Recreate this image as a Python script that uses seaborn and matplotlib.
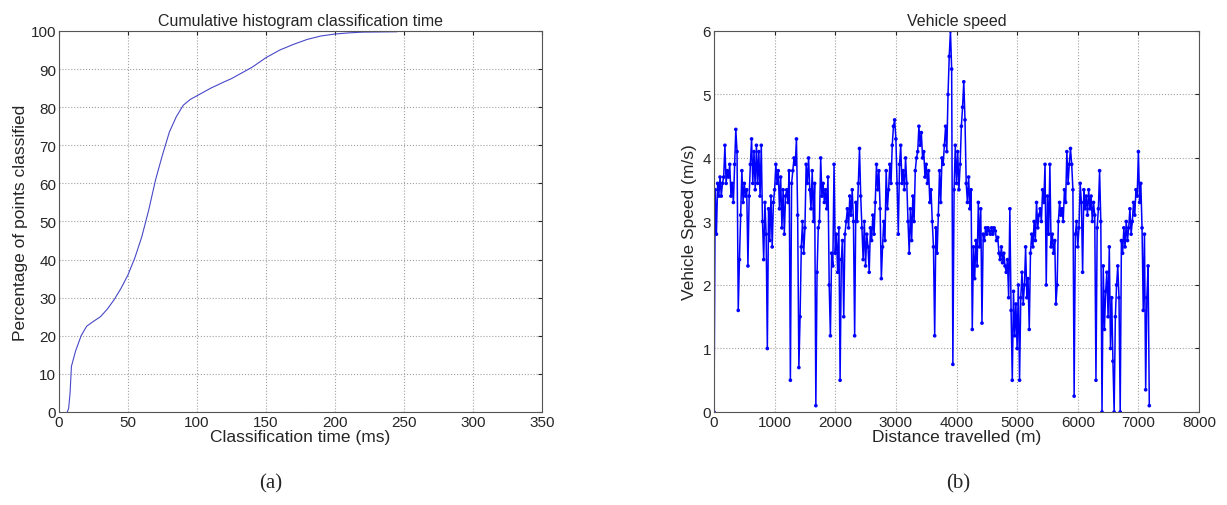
import numpy as np
import pandas as pd
import matplotlib
matplotlib.use("Agg")
import matplotlib.pyplot as plt
import seaborn as sns

# Cumulative histogram of classification time
class_time = [6, 7, 8, 9, 12, 16, 20, 25, 30, 35, 40, 45, 50, 55, 60, 65, 70, 75,
              80, 85, 90, 95, 100, 110, 120, 125, 130, 140, 150, 160, 170, 180,
              190, 200, 210, 220, 245]
pct_classified = [0, 1, 5, 12, 16, 20, 22.5, 23.8, 25, 27, 29.5, 32.5, 36, 40.5, 46,
                  53, 61, 67.5, 73.5, 77.5, 80.5, 82, 83, 85, 86.7, 87.5, 88.5, 90.5,
                  93, 95, 96.5, 97.8, 98.7, 99.2, 99.5, 99.7, 99.8]

# Vehicle speed (m/s), one reading every 20 m of distance travelled
speed_step = 20
vehicle_speed = [
    0.0, 3.5, 2.8, 3.6, 3.4, 3.7, 3.4, 3.6, 3.7, 4.2,
    3.6, 3.8, 3.7, 3.9, 3.4, 3.6, 3.3, 3.9, 4.45, 4.1,
    1.6, 2.4, 3.1, 3.8, 3.3, 3.6, 3.4, 3.5, 2.3, 3.4,
    3.9, 4.3, 3.6, 4.1, 3.5, 4.2, 3.6, 4.1, 3.4, 4.2,
    3.0, 2.4, 3.3, 2.8, 1.0, 3.2, 2.7, 3.4, 2.6, 3.3,
    3.5, 3.9, 3.6, 3.8, 3.2, 3.7, 2.9, 3.5, 2.8, 3.4,
    3.5, 3.3, 3.8, 0.5, 3.6, 3.8, 4.0, 3.9, 4.3, 3.1,
    0.7, 1.5, 2.6, 3.0, 2.5, 2.9, 3.9, 3.6, 4.0, 3.5,
    3.2, 3.8, 3.0, 3.6, 0.1, 2.2, 2.9, 3.0, 4.0, 3.4,
    3.6, 3.3, 3.5, 3.2, 3.7, 2.0, 1.2, 2.5, 2.3, 3.9,
    2.5, 2.8, 2.2, 2.9, 0.5, 2.4, 2.7, 1.5, 2.8, 3.0,
    3.2, 2.9, 3.4, 3.1, 3.5, 3.0, 1.2, 3.3, 3.0, 3.6,
    4.15, 3.4, 2.9, 2.4, 3.0, 2.3, 2.8, 2.6, 2.2, 2.9,
    2.7, 3.1, 2.8, 3.3, 3.9, 3.5, 3.8, 3.2, 2.1, 2.6,
    3.0, 2.7, 3.8, 3.2, 3.5, 3.9, 3.6, 4.2, 4.5, 4.6,
    4.3, 3.6, 2.8, 3.9, 4.2, 3.6, 3.8, 3.5, 4.0, 3.6,
    3.0, 2.5, 3.2, 2.7, 3.4, 3.0, 3.8, 4.0, 4.1, 4.5,
    4.2, 4.4, 4.0, 4.1, 3.7, 3.9, 3.6, 3.8, 3.3, 3.5,
    3.0, 2.6, 1.2, 2.9, 2.5, 3.1, 3.8, 3.3, 4.0, 3.9,
    4.2, 4.5, 4.1, 5.0, 5.6, 6.0, 5.4, 0.75, 3.5, 4.2,
    3.6, 4.1, 3.5, 3.9, 4.5, 4.8, 5.2, 4.6, 3.6, 3.3,
    3.7, 3.2, 3.5, 1.3, 2.6, 2.1, 2.7, 2.3, 3.3, 2.6,
    3.2, 1.4, 2.8, 2.7, 2.9, 2.8, 2.9, 2.85, 2.8, 2.9,
    2.8, 2.9, 2.85, 2.7, 2.75, 2.5, 2.4, 2.6, 2.35, 2.5,
    2.3, 2.2, 2.4, 1.8, 3.2, 1.6, 0.5, 1.9, 1.2, 1.7,
    1.0, 2.0, 0.5, 1.8, 2.2, 1.7, 2.0, 2.6, 1.8, 2.1,
    1.3, 2.5, 2.8, 2.6, 3.0, 2.7, 3.3, 2.9, 3.1, 3.2,
    3.0, 3.5, 3.3, 3.9, 2.0, 3.4, 2.8, 3.9, 2.6, 2.8,
    2.5, 2.7, 1.7, 2.0, 3.0, 3.3, 3.1, 3.2, 3.0, 3.5,
    3.3, 4.1, 3.6, 3.9, 4.15, 3.9, 3.5, 0.25, 2.8, 3.0,
    2.6, 2.9, 3.6, 3.3, 2.2, 3.5, 3.2, 3.4, 3.1, 3.5,
    3.2, 3.4, 3.0, 3.3, 3.1, 0.5, 2.9, 3.2, 3.8, 3.0,
    0.0, 2.3, 1.3, 1.9, 2.2, 1.5, 2.6, 1.0, 1.8, 0.8,
    0.0, 1.5, 2.0, 2.3, 1.8, 0.0, 2.7, 2.5, 2.9, 2.6,
    3.0, 2.7, 2.9, 3.2, 2.8, 3.0, 3.3, 3.1, 3.5, 3.4,
    4.1, 3.3, 3.6, 2.9, 1.6, 2.8, 0.35, 1.8, 2.3, 0.1,
]
distance = np.arange(len(vehicle_speed)) * speed_step

sns.set_style("white")
plt.rcParams['font.family'] = ['Liberation Sans', 'DejaVu Sans']
plt.rcParams['xtick.direction'] = 'in'
plt.rcParams['ytick.direction'] = 'in'

fig = plt.figure(figsize=(12.27, 5.06), dpi=100)
ax1 = fig.add_axes([0.0481, 0.1838, 0.3936, 0.753])
ax2 = fig.add_axes([0.5819, 0.1838, 0.3953, 0.753])

# (a) cumulative histogram
df_time = pd.DataFrame({"t": class_time, "p": pct_classified})
sns.lineplot(data=df_time, x="t", y="p", ax=ax1, color="#4848c8", linewidth=0.8)
ax1.set_xlim(0, 350)
ax1.set_ylim(0, 100)
ax1.set_xticks(range(0, 351, 50))
ax1.set_yticks(range(0, 101, 10))
ax1.set_title("Cumulative histogram classification time", fontsize=11.5, pad=4)
ax1.set_xlabel("Classification time (ms)", fontsize=12.5, labelpad=0)
ax1.set_ylabel("Percentage of points classified", fontsize=12.5, labelpad=2)

# (b) vehicle speed
df_speed = pd.DataFrame({"d": distance, "v": vehicle_speed})
ax2.plot(df_speed["d"], df_speed["v"], color="#0000ff", linewidth=1.1)
sns.scatterplot(data=df_speed, x="d", y="v", ax=ax2, color="#0000ff",
                s=7, marker="o", edgecolor="none")
ax2.set_xlim(0, 8000)
ax2.set_ylim(0, 6)
ax2.set_xticks(range(0, 8001, 1000))
ax2.set_yticks(range(0, 7))
ax2.set_title("Vehicle speed", fontsize=11.5, pad=4)
ax2.set_xlabel("Distance travelled (m)", fontsize=12.5, labelpad=0)
ax2.set_ylabel("Vehicle Speed (m/s)", fontsize=12.5, labelpad=4)

for ax in (ax1, ax2):
    ax.grid(True, linestyle=":", color="#a0a0a0", linewidth=0.8)
    ax.tick_params(labelsize=11, length=3, top=True, right=True, pad=2)
    for sp in ax.spines.values():
        sp.set_color("#555555")
        sp.set_linewidth(0.8)

fig.text(0.2205, 0.035, "(a)", ha="center", fontsize=15, family="Liberation Serif")
fig.text(0.7808, 0.035, "(b)", ha="center", fontsize=15, family="Liberation Serif")

fig.savefig("out.png", dpi=100)
